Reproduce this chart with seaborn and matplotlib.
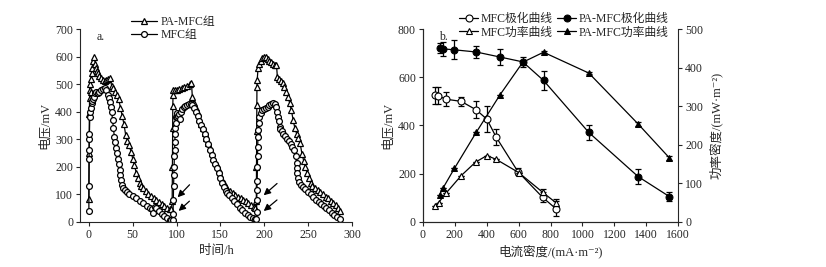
import numpy as np
import pandas as pd
import matplotlib
matplotlib.use("Agg")
import matplotlib.pyplot as plt
import seaborn as sns

# ---- panel a: voltage vs time ----
pa_time = [0, 0.3, 0.5, 0.8, 1, 1.5, 2, 2.5, 3, 4, 5, 6, 7, 8, 9, 10, 12, 14, 16, 18, 20, 22, 24,
           26, 28, 30, 32, 34, 36, 38, 40, 42, 44, 46, 48, 50, 52, 54, 56, 58, 60, 62, 65, 68, 71,
           74, 77, 80, 83, 86, 89, 92, 94,
           95, 95.3, 95.5, 95.7, 96, 96.5, 98, 100, 103, 106, 109, 112, 115, 117, 118, 120, 122,
           124, 126, 128, 130, 132, 134, 136, 138, 140, 142, 144, 146, 148, 150, 152, 154, 156,
           158, 161, 164, 167, 170, 173, 176, 179, 182, 185, 188, 190,
           191, 191.2, 191.4, 191.5, 191.7, 192, 193, 194, 196, 198, 200, 202, 204, 206, 208, 210,
           212, 214, 215, 217, 219, 221, 223, 225, 227, 229, 231, 233, 235, 237, 239, 241, 243,
           245, 247, 249, 251, 253, 255, 258, 261, 264, 267, 270, 273, 276, 279, 282, 284, 286]
pa_volt = [82, 250, 390, 450, 480, 500, 470, 520, 540, 560, 585, 600, 575, 560, 548, 540, 530, 522,
           515, 512, 515, 520, 521, 495, 485, 472, 462, 445, 415, 385, 355, 315, 295, 278, 255,
           230, 205, 178, 158, 142, 132, 122, 112, 102, 95, 87, 80, 72, 65, 58, 52, 47, 45,
           74, 200, 340, 420, 460, 480, 478, 480, 482, 485, 490, 495, 500, 505, 455, 430, 415,
           395, 372, 355, 340, 322, 305, 285, 268, 250, 232, 218, 205, 188, 170, 152, 140, 128,
           120, 113, 105, 98, 92, 86, 80, 74, 67, 60, 54, 50,
           74, 200, 330, 424, 490, 515, 560, 575, 585, 595, 600, 598, 592, 585, 580, 575, 568,
           570, 527, 520, 512, 505, 490, 470, 455, 432, 405, 370, 340, 320, 303, 285, 248, 222,
           198, 176, 158, 142, 132, 123, 115, 108, 100, 92, 85, 77, 70, 60, 50, 40]

mfc_time = [0, 0, 0.2, 0.3, 0.4, 0.6, 1, 1.5, 2, 3, 4, 5, 6, 7, 8, 10, 12, 14, 16, 18, 20, 22, 23,
            24, 25, 26, 27, 28, 29, 30, 31, 32, 33, 34, 35, 36, 37, 38, 39, 41, 43, 46, 50, 54,
            58, 62, 66, 70, 72, 73.5, 75, 77, 80, 83, 86, 89, 92, 94,
            95.5, 96, 96.3, 96.6, 97, 97.2, 97.5, 97.8, 98, 98.3, 98.6, 99, 99.5, 100, 101, 102,
            103, 104, 105, 106, 108, 110, 112, 114, 116, 118, 120, 122, 124, 126, 128, 130, 132,
            134, 136, 138, 140, 142, 144, 146, 148, 150, 152, 154, 156, 158, 160, 163, 166, 169,
            172, 175, 178, 181, 184, 187, 190,
            191, 191.3, 191.5, 191.7, 192, 192.2, 192.4, 192.6, 192.8, 193, 193.5, 194.5, 196,
            198, 200, 202, 204, 206, 208, 210, 212, 214, 215, 216, 217, 217.5, 218, 220, 222, 224,
            226, 228, 230, 232, 234, 236, 237, 237.3, 237.6, 239, 240, 242, 244, 247, 250, 253,
            256, 259, 262, 265, 268, 271, 274, 277, 280, 283, 286]
mfc_volt = [38, 130, 230, 260, 300, 320, 380, 400, 412, 430, 440, 448, 455, 467, 470, 468, 472, 478,
            482, 485, 478, 461, 450, 436, 418, 400, 370, 340, 310, 290, 270, 250, 228, 210, 190,
            170, 152, 135, 122, 115, 110, 103, 93, 85, 77, 68, 59, 52, 48, 32, 55, 50, 40, 30,
            22, 14, 8, 8,
            8, 30, 80, 130, 170, 200, 240, 260, 290, 320, 340, 360, 382, 380, 395, 385, 390, 375,
            400, 410, 418, 422, 426, 428, 428, 425, 412, 400, 385, 368, 352, 336, 318, 300, 282,
            262, 244, 226, 210, 195, 178, 160, 142, 126, 113, 104, 96, 86, 76, 64, 52, 42, 33,
            25, 18, 13, 10,
            12, 37, 80, 116, 150, 200, 240, 273, 310, 333, 358, 380, 395, 405, 410, 412, 418, 424,
            428, 430, 428, 418, 400, 380, 365, 345, 338, 330, 320, 312, 302, 292, 282, 272, 262,
            240, 213, 195, 176, 160, 145, 135, 128, 118, 108, 100, 90, 80, 72, 64, 56, 50, 42,
            33, 24, 17, 11]

# ---- panel b: polarization and power curves ----
mfc_cur = [73, 94, 146, 240, 334, 401, 459, 595, 750, 833]
mfc_pol = [525, 523, 509, 500, 465, 426, 352, 209, 102, 55]
mfc_pol_err = [35, 35, 30, 20, 35, 55, 35, 15, 20, 30]
mfc_pow_cur = [73, 98, 144, 240, 330, 401, 460, 600, 750, 833]
mfc_pow = [40, 50, 74, 120, 155, 172, 162, 128, 77, 50]
mfc_pow_err = [0, 0, 0, 0, 0, 0, 0, 0, 8, 10]

pa_cur = [104, 125, 198, 334, 484, 626, 756, 1040, 1349, 1545]
pa_pol = [721, 718, 714, 705, 684, 664, 587, 371, 188, 105]
pa_pol_err = [20, 30, 40, 25, 35, 20, 40, 30, 30, 20]
pa_pow = [70, 87, 139, 232, 330, 414, 440, 386, 254, 166]
pa_pow_err = [0, 0, 0, 0, 0, 6, 3, 3, 6, 6]

sns.set_theme(style="ticks")
fonts = ["Liberation Serif", "Noto Sans CJK SC", "DejaVu Sans"]
plt.rcParams["font.family"] = fonts
plt.rcParams["axes.linewidth"] = 0.8
plt.rcParams["xtick.major.width"] = 0.8
plt.rcParams["ytick.major.width"] = 0.8
plt.rcParams["xtick.major.size"] = 3
plt.rcParams["ytick.major.size"] = 3
plt.rcParams["xtick.labelsize"] = 8.5
plt.rcParams["ytick.labelsize"] = 8.5
plt.rcParams["xtick.major.pad"] = 2
plt.rcParams["ytick.major.pad"] = 2

fig = plt.figure(figsize=(8.26, 2.67), dpi=100)
ax_a = fig.add_axes([0.097, 0.169, 0.329, 0.722])
ax_b = fig.add_axes([0.512, 0.169, 0.309, 0.722])
ax_p = ax_b.twinx()

# panel a
sns.lineplot(x=pa_time, y=pa_volt, ax=ax_a, estimator=None, sort=False, color="black",
             linewidth=0.9, marker="^", markersize=4.2, markerfacecolor="white",
             markeredgecolor="black", markeredgewidth=0.9, label="PA-MFC组")
sns.lineplot(x=mfc_time, y=mfc_volt, ax=ax_a, estimator=None, sort=False, color="black",
             linewidth=0.9, marker="o", markersize=4.2, markerfacecolor="white",
             markeredgecolor="black", markeredgewidth=0.9, label="MFC组")

for (x0, y0, x1, y1) in [(117, 142, 99, 82), (117, 82, 100, 33),
                         (217, 146, 197, 90), (217, 86, 197, 33)]:
    ax_a.annotate("", xy=(x1, y1), xytext=(x0, y0),
                  arrowprops=dict(arrowstyle="-|>", color="black", lw=0.9,
                                  mutation_scale=10))

ax_a.set_xlim(-10, 300)
ax_a.set_ylim(0, 700)
ax_a.set_xticks(range(0, 301, 50))
ax_a.set_yticks(range(0, 701, 100))
ax_a.set_xlabel("时间/h", fontsize=9, labelpad=3)
ax_a.set_ylabel("电压/mV", fontsize=9, labelpad=3)
ax_a.text(0.06, 0.99, "a.", transform=ax_a.transAxes, fontsize=8.5, va="top")
sns.despine(ax=ax_a)
ax_a.legend(loc="upper left", bbox_to_anchor=(0.165, 1.10), frameon=False, fontsize=8.5,
            handlelength=2.2, handletextpad=0.3, labelspacing=0.15, borderpad=0)

# panel b - polarization (left axis)
ax_b.errorbar(mfc_cur, mfc_pol, yerr=mfc_pol_err, fmt="none", ecolor="black",
              elinewidth=0.9, capsize=2.5, capthick=0.9)
ax_b.errorbar(pa_cur, pa_pol, yerr=pa_pol_err, fmt="none", ecolor="black",
              elinewidth=0.9, capsize=2.5, capthick=0.9)
sns.lineplot(x=mfc_cur, y=mfc_pol, ax=ax_b, estimator=None, sort=False, color="black",
             linewidth=0.9, marker="o", markersize=5, markerfacecolor="white",
             markeredgecolor="black", markeredgewidth=0.8, label="MFC极化曲线")
sns.lineplot(x=pa_cur, y=pa_pol, ax=ax_b, estimator=None, sort=False, color="black",
             linewidth=0.9, marker="o", markersize=5, markerfacecolor="black",
             markeredgecolor="black", label="PA-MFC极化曲线")

# panel b - power (right axis)
ax_p.errorbar(mfc_pow_cur, mfc_pow, yerr=mfc_pow_err, fmt="none", ecolor="black",
              elinewidth=0.9, capsize=2.5, capthick=0.9)
ax_p.errorbar(pa_cur, pa_pow, yerr=pa_pow_err, fmt="none", ecolor="black",
              elinewidth=0.9, capsize=2.5, capthick=0.9)
sns.lineplot(x=mfc_pow_cur, y=mfc_pow, ax=ax_p, estimator=None, sort=False, color="black",
             linewidth=0.9, marker="^", markersize=4.5, markerfacecolor="white",
             markeredgecolor="black", markeredgewidth=0.8, label="MFC功率曲线")
sns.lineplot(x=pa_cur, y=pa_pow, ax=ax_p, estimator=None, sort=False, color="black",
             linewidth=0.9, marker="^", markersize=4.5, markerfacecolor="black",
             markeredgecolor="black", label="PA-MFC功率曲线")

ax_b.set_xlim(0, 1600)
ax_b.set_ylim(0, 800)
ax_p.set_ylim(0, 500)
ax_b.set_xticks(range(0, 1601, 200))
ax_b.set_yticks(range(0, 801, 200))
ax_p.set_yticks(range(0, 501, 100))
ax_b.set_xlabel("电流密度/(mA·m⁻²)", fontsize=9, labelpad=3)
ax_b.set_ylabel("电压/mV", fontsize=9, labelpad=3)
ax_p.set_ylabel("功率密度/(mW·m⁻²)", fontsize=9, labelpad=4)
ax_b.text(0.065, 0.99, "b.", transform=ax_b.transAxes, fontsize=8.5, va="top")
for a in (ax_b, ax_p):
    a.spines["top"].set_visible(False)
ax_b.spines["right"].set_visible(False)

h1, l1 = ax_b.get_legend_handles_labels()
h2, l2 = ax_p.get_legend_handles_labels()
if ax_p.get_legend() is not None:
    ax_p.get_legend().remove()
handles = [h1[0], h2[0], h1[1], h2[1]]
labels = [l1[0], l2[0], l1[1], l2[1]]
ax_b.legend(handles, labels, ncol=2, loc="upper left", bbox_to_anchor=(0.12, 1.115),
            frameon=False, fontsize=8.5, handlelength=1.6, handletextpad=0.2,
            columnspacing=0.4, labelspacing=0.15, borderpad=0)

fig.savefig("out.png", dpi=100)
